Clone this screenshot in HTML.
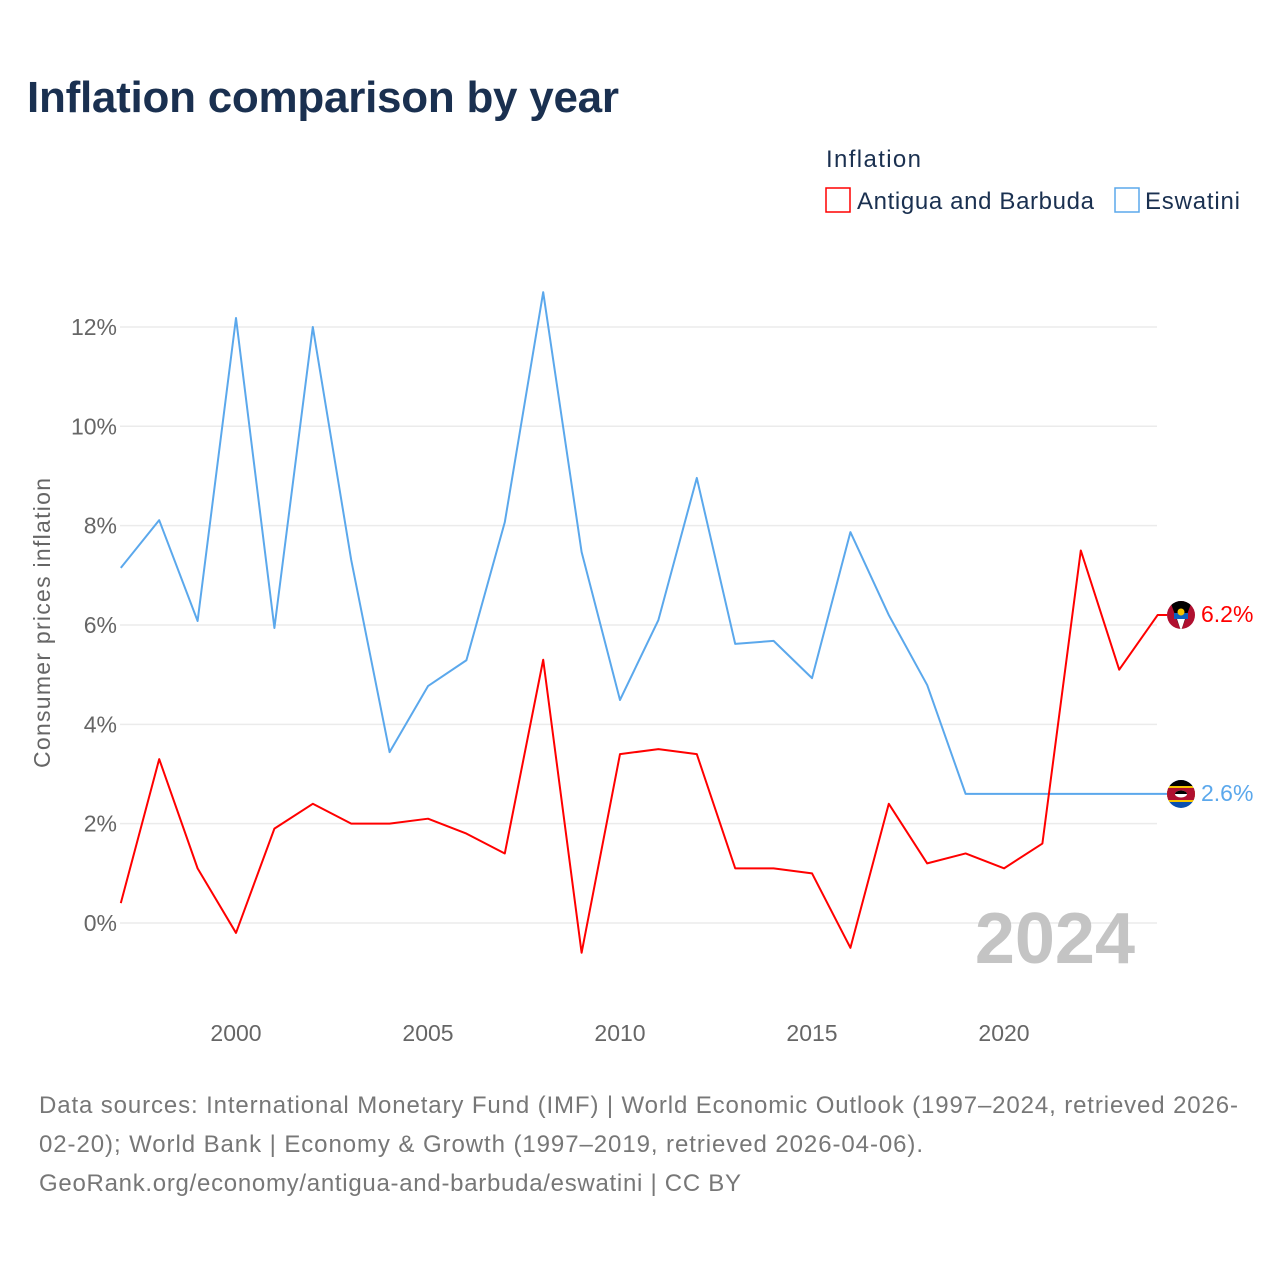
<!DOCTYPE html>
<html><head><meta charset="utf-8"><style>
body{margin:0;background:#fff;font-family:"Liberation Sans",sans-serif;}
</style></head><body>
<svg id="c" width="1280" height="1280" xmlns="http://www.w3.org/2000/svg">
<text x="27" y="112" font-size="44" font-weight="bold" fill="#1a3050" textLength="592">Inflation comparison by year</text>
<text x="826" y="167" font-size="24" fill="#1a3050" textLength="95">Inflation</text>
<g><rect x="826" y="188" width="24" height="24" fill="none" stroke="#f00" stroke-width="1.5"/><text x="857" y="209" font-size="24" fill="#1a3050" textLength="237">Antigua and Barbuda</text></g>
<g><rect x="1115" y="188" width="24" height="24" fill="none" stroke="#5ba8ec" stroke-width="1.5"/><text x="1145" y="209" font-size="24" fill="#1a3050" textLength="95">Eswatini</text></g>
<text transform="translate(50,623) rotate(-90)" text-anchor="middle" font-size="23" fill="#666" textLength="290">Consumer prices inflation</text>
<g id="grid"></g><g id="yt"></g><g id="xt"></g>
<text x="1135" y="963" text-anchor="end" font-size="72" font-weight="bold" fill="#c4c4c4">2024</text>
<g id="series"></g>
<g><clipPath id="ca"><circle cx="1181" cy="615" r="14"/></clipPath><g clip-path="url(#ca)"><rect x="1167" y="601" width="28" height="28" fill="#b01030"/><polygon points="1170,601 1192,601 1181,631" fill="#000"/><polygon points="1175,613 1187,613 1181,631" fill="#fff"/><rect x="1174" y="613" width="14" height="6" fill="#0a5fc0"/><circle cx="1181" cy="612" r="3.5" fill="#f5c400"/></g></g>
<g><clipPath id="ce"><circle cx="1181" cy="794" r="14"/></clipPath><g clip-path="url(#ce)"><rect x="1167" y="780" width="28" height="28" fill="#0a4fb0"/><rect x="1167" y="786" width="28" height="16" fill="#f5c400"/><rect x="1167" y="788" width="28" height="12" fill="#b01030"/><ellipse cx="1181" cy="794" rx="6" ry="3.5" fill="#fff"/><path d="M1175,794 A6,3.5 0 0 1 1187,794 L1181,794Z" fill="#000"/><rect x="1167" y="780" width="28" height="6" fill="#000"/></g></g>
<text x="1201" y="622" font-size="23" fill="#f00">6.2%</text>
<text x="1201" y="801" font-size="23" fill="#5ba8ec">2.6%</text>
<text font-size="24" fill="#777"><tspan x="39" y="1113" textLength="1199">Data sources: International Monetary Fund (IMF) | World Economic Outlook (1997–2024, retrieved 2026-</tspan><tspan x="39" y="1152" textLength="884">02-20); World Bank | Economy &amp; Growth (1997–2019, retrieved 2026-04-06).</tspan><tspan x="39" y="1191" textLength="702">GeoRank.org/economy/antigua-and-barbuda/eswatini | CC BY</tspan></text>
</svg>
<script>
const years=[1997,1998,1999,2000,2001,2002,2003,2004,2005,2006,2007,2008,2009,2010,2011,2012,2013,2014,2015,2016,2017,2018,2019,2020,2021,2022,2023,2024];
const antigua=[0.4,3.3,1.1,-0.2,1.9,2.4,2.0,2.0,2.1,1.8,1.4,5.3,-0.6,3.4,3.5,3.4,1.1,1.1,1.0,-0.5,2.4,1.2,1.4,1.1,1.6,7.5,5.1,6.2];
const eswatini=[7.15,8.11,6.08,12.18,5.94,12.0,7.31,3.44,4.77,5.29,8.07,12.7,7.47,4.49,6.1,8.96,5.62,5.68,4.93,7.87,6.2,4.79,2.6,2.6,2.6,2.6,2.6,2.6];
const yTicks=[0,2,4,6,8,10,12];
const xTicks=[2000,2005,2010,2015,2020];
const NS="http://www.w3.org/2000/svg";
const X=y=>120.8+(y-1997)*38.4, Y=v=>923-v*49.67;
function mk(t,a,p){const e=document.createElementNS(NS,t);for(const k in a)e.setAttribute(k,a[k]);document.getElementById(p).appendChild(e);return e;}
yTicks.forEach(v=>{
 const l=mk('line',{x1:120,x2:1157,y1:Y(v),y2:Y(v),stroke:'#ebebeb','stroke-width':1.5},'grid');
 
 
 const t=mk('text',{x:117,y:Y(v)+8,'text-anchor':'end','font-size':23,fill:'#666'},'yt');t.textContent=v+'%';
 
 
});
xTicks.forEach(v=>{
 const t=mk('text',{x:X(v),y:1041,'text-anchor':'middle','font-size':23,fill:'#666'},'xt');t.textContent=v;
 
 
});
function line(d,c,n){
 const p=mk('polyline',{points:d.map((v,i)=>X(years[i])+','+Y(v)).join(' ')+' 1167,'+Y(d[d.length-1]),fill:'none',stroke:c,'stroke-width':2,'stroke-linejoin':'round'},'series');
 
 
}
line(eswatini,'#5ba8ec','line-eswatini');
line(antigua,'#f00','line-antigua');
</script>
</body></html>
